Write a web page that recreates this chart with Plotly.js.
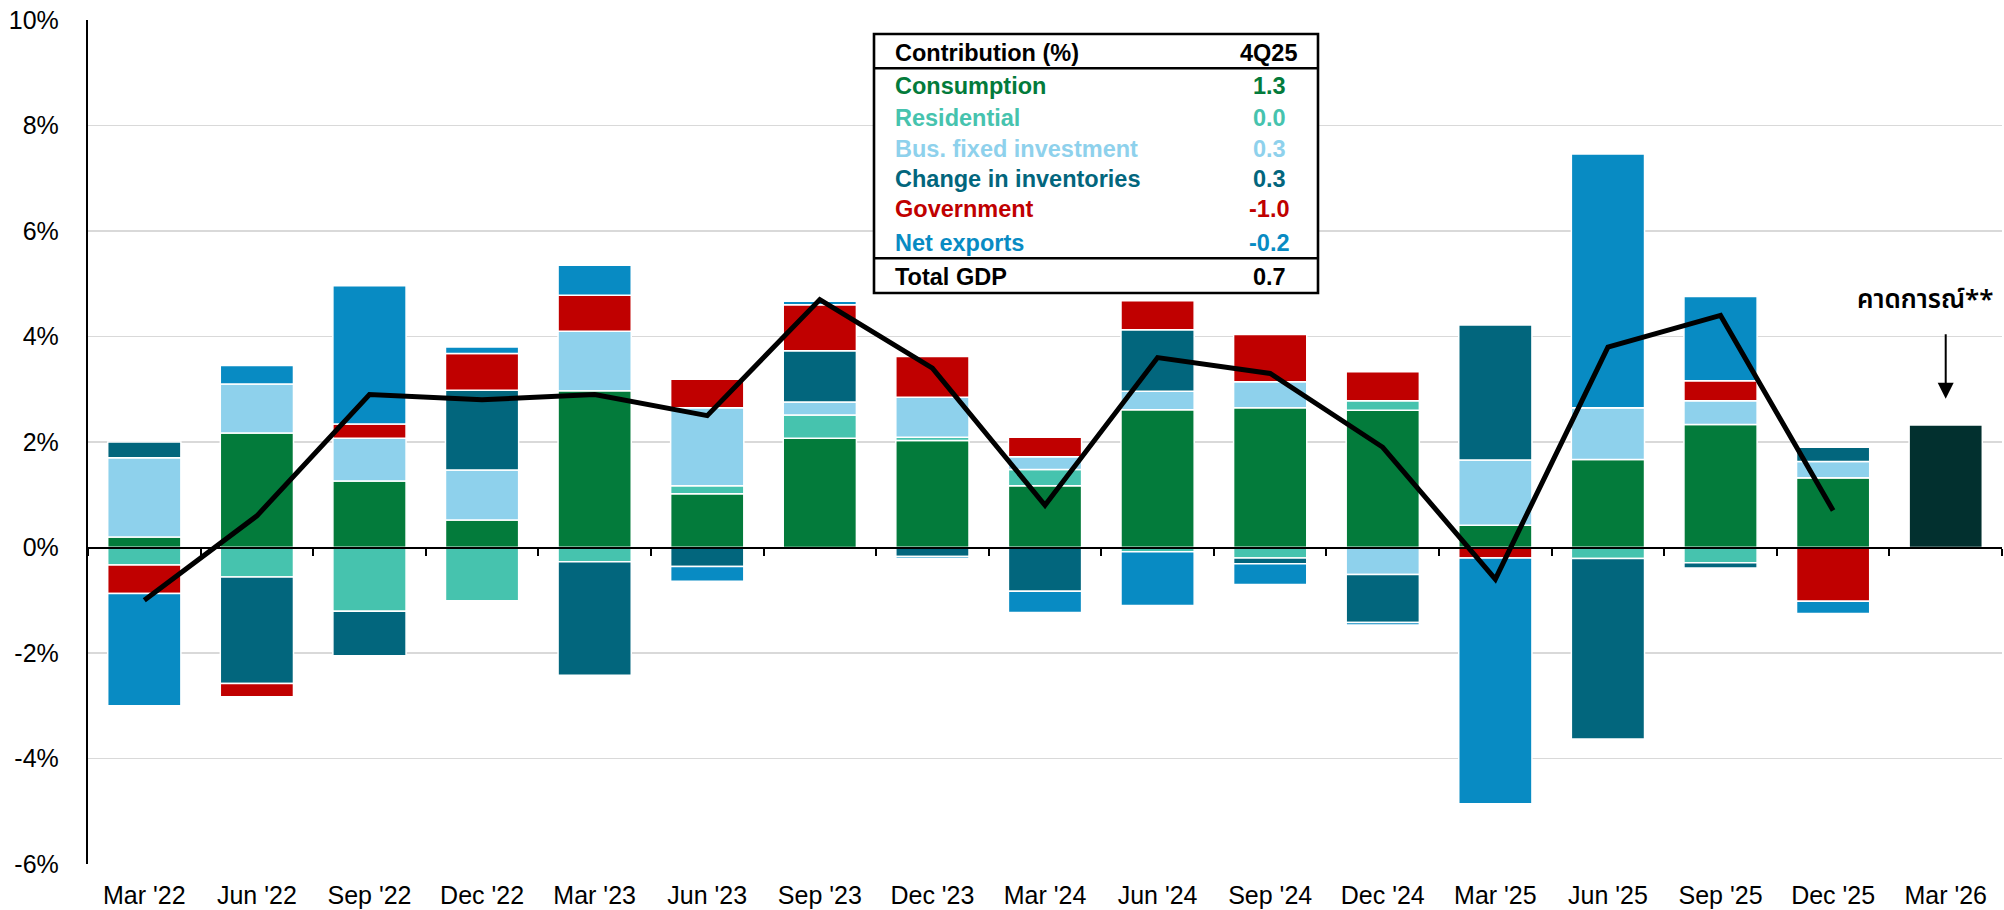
<!DOCTYPE html>
<html>
<head>
<meta charset="utf-8">
<script src="https://cdn.plot.ly/plotly-3.0.1.min.js"></script>
<style>
  html, body { margin: 0; padding: 0; background: #ffffff; }
  #chart { width: 2004px; height: 910px; }
</style>
</head>
<body>
<div id="chart"></div>
<script>
// ---------------- DATA ----------------
const quarters = ["Mar '22", "Jun '22", "Sep '22", "Dec '22", "Mar '23", "Jun '23", "Sep '23", "Dec '23",
                  "Mar '24", "Jun '24", "Sep '24", "Dec '24", "Mar '25", "Jun '25", "Sep '25", "Dec '25", "Mar '26"];

const consumption = [0.20, 2.17, 1.26, 0.52, 2.97, 1.02, 2.07, 2.03, 1.17, 2.61, 2.65, 2.60, 0.42, 1.67, 2.33, 1.32];
const residential = [-0.33, -0.56, -1.21, -1.01, -0.27, 0.15, 0.44, 0.06, 0.31, -0.08, -0.20, 0.18, 0.00, -0.21, -0.29, 0.00];
const busFixedInv = [1.50, 0.93, 0.81, 0.95, 1.13, 1.48, 0.25, 0.76, 0.24, 0.35, 0.49, -0.51, 1.24, 0.98, 0.45, 0.31];
const inventories = [0.30, -2.02, -0.84, 1.51, -2.15, -0.36, 0.97, -0.17, -0.83, 1.17, -0.11, -0.91, 2.56, -3.42, -0.10, 0.27];
const government  = [-0.54, -0.25, 0.27, 0.70, 0.68, 0.54, 0.87, 0.77, 0.37, 0.55, 0.90, 0.55, -0.20, 0.00, 0.38, -1.02];
const netExports  = [-2.13, 0.35, 2.62, 0.12, 0.57, -0.28, 0.07, -0.04, -0.40, -1.02, -0.39, -0.05, -4.66, 4.81, 1.60, -0.23];
const totalGDP    = [-1.0, 0.6, 2.9, 2.8, 2.9, 2.5, 4.7, 3.4, 0.8, 3.6, 3.3, 1.9, -0.6, 3.8, 4.4, 0.7];
const forecast    = [2.32];   // Mar '26

const seriesNames = ["Consumption", "Residential", "Bus. fixed investment", "Change in inventories", "Government", "Net exports"];
const yTicks = [-6, -4, -2, 0, 2, 4, 6, 8, 10];
const tableHeader = ["Contribution (%)", "4Q25"];
const totalLabel = "Total GDP";
const forecastLabel = "คาดการณ์**";

// ---------------- STYLE ----------------
const colors = ["#037B3B", "#46C3AE", "#8ED1EC", "#02667D", "#C00000", "#088BC3"];
const forecastColor = "#02302F";
const FONT = "Liberation Sans, Arial, sans-serif";

const W = 2004, H = 910;
const M = {l: 88, r: 2, t: 20, b: 46};
const PW = W - M.l - M.r, PH = H - M.t - M.b;
const px = x => (x - M.l) / PW;          // page pixel -> paper x
const py = y => 1 - (y - M.t) / PH;      // page pixel -> paper y
const yRange = [-6, 10];

const hist = quarters.slice(0, totalGDP.length);
const seriesData = [consumption, residential, busFixedInv, inventories, government, netExports];

const traces = seriesData.map((arr, i) => ({
  type: 'bar', name: seriesNames[i], x: hist, y: arr,
  xaxis: 'x', yaxis: 'y',
  marker: {color: colors[i], line: {color: '#ffffff', width: 1.5}},
  hoverinfo: 'name+y'
}));
traces.push({
  type: 'bar', name: 'Forecast', x: quarters.slice(totalGDP.length), y: forecast,
  xaxis: 'x', yaxis: 'y',
  marker: {color: forecastColor, line: {color: '#ffffff', width: 1.5}}
});
traces.push({
  type: 'scatter', mode: 'lines', name: totalLabel, x: hist, y: totalGDP,
  xaxis: 'x2', yaxis: 'y',
  line: {color: '#000000', width: 5, shape: 'linear'},
  hoverinfo: 'name+y'
});

// ---------------- TABLE (legend box) ----------------
const boxL = 874, boxR = 1318, boxT = 34, boxB = 293, headDiv = 68.3, totDiv = 258.3;
const labelX = 893, valueX = 1269;
const rowY = [86, 117.7, 149, 179.3, 209.3, 243.3];
const headY = 53.3, totY = 276.7;
const lastIdx = totalGDP.length - 1;

const shapes = [
  {type: 'rect', xref: 'paper', yref: 'paper', x0: px(boxL), x1: px(boxR), y0: py(boxB), y1: py(boxT),
   line: {color: '#000', width: 2.6}, fillcolor: '#ffffff', layer: 'above'},
  {type: 'line', xref: 'paper', yref: 'paper', x0: px(boxL), x1: px(boxR), y0: py(headDiv), y1: py(headDiv),
   line: {color: '#000', width: 2.6}, layer: 'above'},
  {type: 'line', xref: 'paper', yref: 'paper', x0: px(boxL), x1: px(boxR), y0: py(totDiv), y1: py(totDiv),
   line: {color: '#000', width: 2.6}, layer: 'above'}
];

const tfont = (c) => ({family: FONT, size: 23.5, color: c, weight: 700});
const annotations = [];
annotations.push({xref: 'paper', yref: 'paper', x: px(labelX), y: py(headY), xanchor: 'left', yanchor: 'middle',
  text: tableHeader[0], showarrow: false, font: tfont('#000')});
annotations.push({xref: 'paper', yref: 'paper', x: px(valueX), y: py(headY), xanchor: 'center', yanchor: 'middle',
  text: tableHeader[1], showarrow: false, font: tfont('#000')});
seriesNames.forEach((n, i) => {
  const v = seriesData[i][lastIdx];
  annotations.push({xref: 'paper', yref: 'paper', x: px(labelX), y: py(rowY[i]), xanchor: 'left', yanchor: 'middle',
    text: n, showarrow: false, font: tfont(colors[i])});
  annotations.push({xref: 'paper', yref: 'paper', x: px(valueX), y: py(rowY[i]), xanchor: 'center', yanchor: 'middle',
    text: (Math.abs(v) < 0.05 ? 0 : v).toFixed(1), showarrow: false, font: tfont(colors[i])});
});
annotations.push({xref: 'paper', yref: 'paper', x: px(labelX), y: py(totY), xanchor: 'left', yanchor: 'middle',
  text: totalLabel, showarrow: false, font: tfont('#000')});
annotations.push({xref: 'paper', yref: 'paper', x: px(valueX), y: py(totY), xanchor: 'center', yanchor: 'middle',
  text: totalGDP[lastIdx].toFixed(1), showarrow: false, font: tfont('#000')});

// forecast arrow + label
const fcX = quarters[quarters.length - 1];
annotations.push({xref: 'x', yref: 'y', x: fcX, y: forecast[0] + 0.5, text: '', showarrow: true,
  ax: 0, ay: -66, arrowhead: 2, arrowsize: 1.6, arrowwidth: 2, arrowcolor: '#000', standoff: 0, startstandoff: 0});
annotations.push({xref: 'x', yref: 'y', x: fcX, y: forecast[0] + 0.5, text: forecastLabel, showarrow: false,
  xanchor: 'center', yanchor: 'middle', xshift: -20, yshift: 99,
  font: {family: "Tahoma, Noto Sans Thai, Liberation Sans, sans-serif", size: 26, color: '#000', weight: 600}});

const layout = {
  width: W, height: H,
  margin: M,
  paper_bgcolor: '#ffffff', plot_bgcolor: '#ffffff',
  barmode: 'relative',
  bargap: 0.35,
  showlegend: false,
  font: {family: FONT, size: 25, color: '#000'},
  xaxis: {
    type: 'category', categoryorder: 'array', categoryarray: quarters, range: [-0.5, quarters.length - 0.5],
    showline: false, ticks: '', showgrid: false, zeroline: false,
    tickfont: {family: FONT, size: 25, color: '#000'}, ticklabelstandoff: 14
  },
  xaxis2: {
    type: 'category', categoryorder: 'array', categoryarray: quarters, range: [-0.5, quarters.length - 0.5],
    overlaying: 'x', anchor: 'free', position: -yRange[0] / (yRange[1] - yRange[0]),
    showline: true, linecolor: '#000', linewidth: 2.5,
    ticks: 'outside', tickson: 'boundaries', ticklen: 7, tickwidth: 2, tickcolor: '#000',
    showticklabels: false, showgrid: false, zeroline: false
  },
  yaxis: {
    range: yRange, tickvals: yTicks, ticktext: yTicks.map(v => v + '%'),
    showgrid: true, gridcolor: '#D9D9D9', gridwidth: 1.5,
    zeroline: false, showline: true, linecolor: '#000', linewidth: 2.2,
    ticks: '', tickfont: {family: FONT, size: 25, color: '#000'}, ticklabelstandoff: 22
  },
  shapes: shapes,
  annotations: annotations
};

Plotly.newPlot('chart', traces, layout, {staticPlot: true, displayModeBar: false});
</script>
</body>
</html>
